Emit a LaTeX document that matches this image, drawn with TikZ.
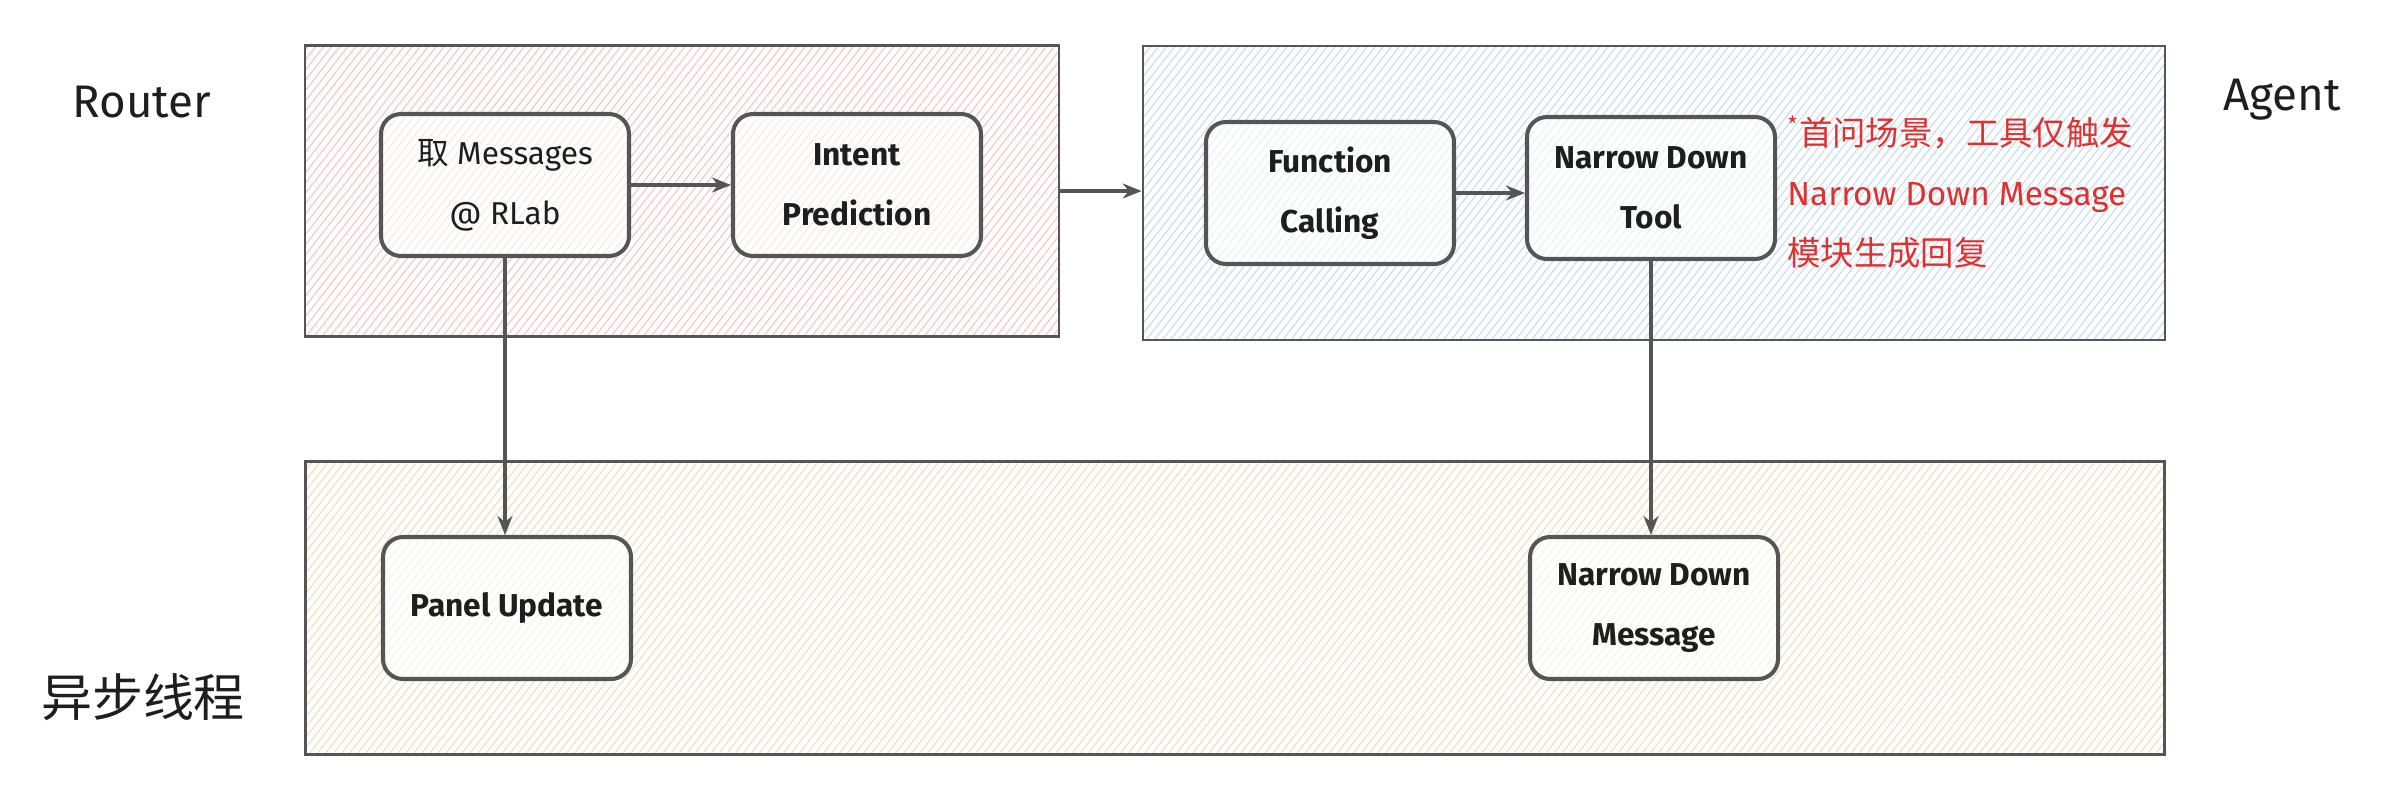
\documentclass[tikz,border=0pt]{standalone}
\usepackage{fontspec}
\setmainfont{Fira Sans}
\newfontfamily\cjk{Noto Sans CJK SC}
\usepackage{tikz}
\usetikzlibrary{arrows.meta,positioning,patterns.meta}
\definecolor{inkgray}{HTML}{555555}
\definecolor{inkdark}{HTML}{1E1E1E}
\definecolor{notered}{HTML}{E03131}
\definecolor{routerhatch}{HTML}{F3CACA}
\definecolor{agenthatch}{HTML}{C9DEF3}
\definecolor{asynchatch}{HTML}{F0E2BE}

\begin{document}
\begin{tikzpicture}[x=0.2mm, y=-0.2mm, >={Stealth[length=3.8mm,width=3mm]}, semithick,
      lane/.style={rectangle,draw=inkgray,line width=1.5pt,
        pattern={Lines[angle=52,distance=3.6pt,line width=0.7pt]},pattern color=#1},
      flat/.style={rectangle,rounded corners=4mm,draw=inkgray,line width=2.3pt,
        preaction={fill=white},minimum width=49.6mm,minimum height=28.4mm,align=center,
        text=inkdark,font=\fontsize{18}{34}\selectfont\bfseries,
        pattern={Lines[angle=52,distance=3.6pt,line width=0.6pt]},pattern color=#1!45!white},
      title/.style={text=inkdark,font=\fontsize{26}{30}\selectfont},
      link/.style={->,draw=inkgray,line width=2.2pt}]
      \useasboundingbox[fill=white] (0,0) rectangle (2390,800);
      % swim lanes
      \node[lane=routerhatch,minimum width=150.8mm,minimum height=58.2mm] (router) at (682,191) {};
      \node[lane=agenthatch,minimum width=204.4mm,minimum height=58.8mm] (agent) at (1654,193) {};
      \node[lane=asynchatch,minimum width=371.8mm,minimum height=58.6mm] (async) at (1235,608) {};
      \node[title] (routerlbl) at (142,102) {Router};
      \node[title] (agentlbl) at (2282,100) {Agent};
      \node[title,font=\fontsize{29}{32}\cjk] (asynclbl) at (143,697) {异步线程};
      % steps
      \node[flat=routerhatch,font=\fontsize{18}{34}\selectfont] (msg) at (505,185) {{\cjk 取} Messages\\@ RLab};
      \node[flat=routerhatch] (intent) at (857,185) {Intent\\Prediction};
      \node[flat=agenthatch] (fcall) at (1330,193) {Function\\Calling};
      \node[flat=agenthatch] (ndtool) at (1651,188) {Narrow Down\\Tool};
      \node[flat=asynchatch] (panel) at (507,608) {Panel Update};
      \node[flat=asynchatch] (ndmsg) at (1654,608) {Narrow Down\\Message};
      \node[anchor=west,align=left,text=notered,font=\fontsize{19}{34}\selectfont] (note) at (1781,192)
        {{\cjk\textsuperscript{*}首问场景，工具仅触发}\\Narrow Down Message\\{\cjk 模块生成回复}};
      \draw[link] (msg) -- (intent);
      \draw[link] (router.east) -- (router.east -| agent.west);
      \draw[link] (fcall) -- (ndtool.west |- fcall);
      \draw[link] (msg.south) -- (msg.south |- panel.north);
      \draw[link] (ndtool.south) -- (ndtool.south |- ndmsg.north);
    \end{tikzpicture}
\end{document}
